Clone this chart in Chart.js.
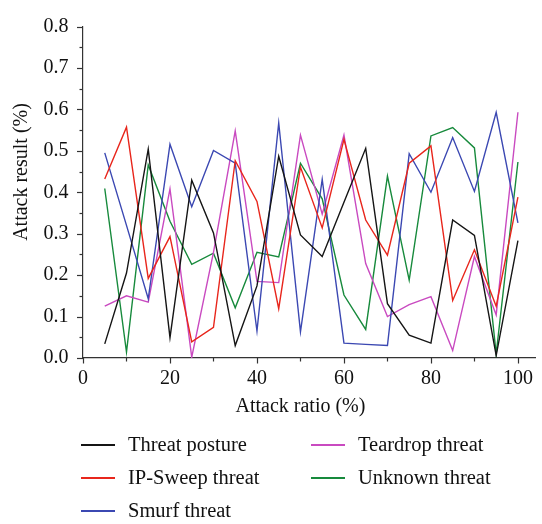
<!DOCTYPE html>
<html>
<head>
<meta charset="utf-8">
<script src="https://cdn.jsdelivr.net/npm/chart.js@4/dist/chart.umd.min.js"></script>
<style>
  html, body { margin: 0; padding: 0; background: #fff; }
  #wrap { position: relative; width: 542px; height: 524px; }
  #chart { position: absolute; left: 0; top: 0; }
  .legend { position: absolute; font-family: "Liberation Serif", "DejaVu Serif", serif; font-size: 20.5px; color: #111; }
  .legend .item { position: absolute; white-space: nowrap; height: 20px; line-height: 20px; }
  .legend .swatch { position: absolute; left: 0; top: 10px; width: 34px; height: 1.5px; }
  .legend .text { position: absolute; left: 47px; top: 0px; }
</style>
</head>
<body>
<div id="wrap">
  <canvas id="chart" width="542" height="524"></canvas>
  <div class="legend" id="legend"></div>
</div>
<script>
// Attack ratio (%) on the x axis
const attackRatio = [5, 10, 15, 20, 25, 30, 35, 40, 45, 50, 55, 60, 65, 70, 75, 80, 85, 90, 95, 100];

// Attack result (%) per threat type
const threatPosture = [0.034, 0.205, 0.504, 0.049, 0.429, 0.302, 0.030, 0.174, 0.487, 0.297, 0.245, 0.376, 0.506, 0.131, 0.055, 0.036, 0.333, 0.296, 0.006, 0.283];
const ipSweepThreat = [0.432, 0.557, 0.192, 0.293, 0.039, 0.074, 0.476, 0.378, 0.119, 0.461, 0.314, 0.528, 0.333, 0.248, 0.470, 0.512, 0.139, 0.261, 0.125, 0.388];
const smurfThreat = [0.495, 0.320, 0.143, 0.516, 0.365, 0.501, 0.470, 0.065, 0.567, 0.063, 0.431, 0.036, 0.033, 0.030, 0.493, 0.400, 0.532, 0.402, 0.593, 0.326];
const teardropThreat = [0.125, 0.150, 0.135, 0.408, 0.002, 0.255, 0.548, 0.185, 0.182, 0.538, 0.347, 0.538, 0.228, 0.100, 0.129, 0.148, 0.018, 0.245, 0.104, 0.593];
const unknownThreat = [0.409, 0.014, 0.466, 0.330, 0.226, 0.253, 0.121, 0.255, 0.244, 0.470, 0.384, 0.152, 0.069, 0.439, 0.188, 0.536, 0.556, 0.507, 0.010, 0.473];

const seriesNames = ['Threat posture', 'IP-Sweep threat', 'Smurf threat', 'Teardrop threat', 'Unknown threat'];
const seriesValues = [threatPosture, ipSweepThreat, smurfThreat, teardropThreat, unknownThreat];
const seriesColors = ['#151515', '#e8261c', '#3b48b2', '#c94ac0', '#178a3c'];

// Tick labels
const xTickLabels = [0, 20, 40, 60, 80, 100];
const yTickLabels = ['0.0', '0.1', '0.2', '0.3', '0.4', '0.5', '0.6', '0.7', '0.8'];

const FONT = '"Liberation Serif", "DejaVu Serif", serif';
const AXIS_COLOR = '#333';

const datasets = seriesNames.map((name, k) => ({
  label: name,
  data: attackRatio.map((x, i) => ({ x: x, y: seriesValues[k][i] })),
  borderColor: seriesColors[k],
  backgroundColor: seriesColors[k],
  borderWidth: 1.4,
  pointRadius: 0,
  tension: 0,
  fill: false
}));

// Outward tick marks (long on labelled values, short in between) and axis titles
const tickMarks = {
  id: 'tickMarks',
  afterDraw(chart) {
    const ctx = chart.ctx;
    const xs = chart.scales.x, ys = chart.scales.y;
    ctx.save();
    ctx.strokeStyle = AXIS_COLOR;
    ctx.lineWidth = 1.2;
    ys.ticks.forEach((t, i) => {
      const y = Math.round(ys.getPixelForValue(t.value)) + 0.5;
      const len = (i % 2 === 0) ? 6 : 3.5;
      ctx.beginPath();
      ctx.moveTo(ys.right, y);
      ctx.lineTo(ys.right - len, y);
      ctx.stroke();
    });
    xs.ticks.forEach((t, i) => {
      const x = Math.round(xs.getPixelForValue(t.value)) + 0.5;
      const len = (i % 2 === 0) ? 5.5 : 3.5;
      ctx.beginPath();
      ctx.moveTo(x, xs.top);
      ctx.lineTo(x, xs.top + len);
      ctx.stroke();
    });
    ctx.fillStyle = '#111';
    ctx.font = '20px ' + FONT;
    ctx.textAlign = 'center';
    ctx.textBaseline = 'middle';
    const xc = (xs.getPixelForValue(xTickLabels[0]) + xs.getPixelForValue(xTickLabels[xTickLabels.length - 1])) / 2;
    ctx.fillText('Attack ratio (%)', xc, 407);
    ctx.translate(22, 172);
    ctx.rotate(-Math.PI / 2);
    ctx.fillText('Attack result (%)', 0, 0);
    ctx.restore();
  }
};

const chart = new Chart(document.getElementById('chart'), {
  type: 'line',
  data: { datasets: datasets },
  options: {
    responsive: false,
    animation: false,
    layout: { padding: { top: 15, right: 2, left: 0, bottom: 0 } },
    plugins: { legend: { display: false }, tooltip: { enabled: false } },
    scales: {
      x: {
        type: 'linear',
        min: 0,
        max: 104,
        afterBuildTicks(scale) {
          const ticks = [];
          for (let i = 0; i <= 10; i++) ticks.push({ value: i * 10 });
          scale.ticks = ticks;
        },
        afterFit(scale) { scale.height = 166; },
        grid: { display: false, drawTicks: false },
        border: { display: true, color: AXIS_COLOR, width: 1.2 },
        ticks: {
          padding: 9,
          color: '#111',
          font: { family: FONT, size: 20 },
          maxRotation: 0,
          autoSkip: false,
          callback(value) { return xTickLabels.includes(value) ? String(value) : ''; }
        }
      },
      y: {
        type: 'linear',
        min: 0,
        max: 0.8,
        afterBuildTicks(scale) {
          const ticks = [];
          for (let i = 0; i <= 16; i++) ticks.push({ value: i * 0.05 });
          scale.ticks = ticks;
        },
        afterFit(scale) { scale.width = 83; },
        grid: { display: false, drawTicks: false },
        border: { display: true, color: AXIS_COLOR, width: 1.2 },
        ticks: {
          padding: 14.5,
          color: '#111',
          font: { family: FONT, size: 20 },
          autoSkip: false,
          callback(value, index) { return index % 2 === 0 ? yTickLabels[index / 2] : ''; }
        }
      }
    }
  },
  plugins: [tickMarks]
});

// Legend in two columns under the plot
const legendEl = document.getElementById('legend');
const legendSlots = [[81, 434], [81, 467], [81, 500], [311, 434], [311, 467]];
chart.data.datasets.forEach((ds, i) => {
  const item = document.createElement('div');
  item.className = 'item';
  item.style.left = legendSlots[i][0] + 'px';
  item.style.top = legendSlots[i][1] + 'px';
  const sw = document.createElement('div');
  sw.className = 'swatch';
  sw.style.backgroundColor = ds.borderColor;
  const tx = document.createElement('span');
  tx.className = 'text';
  tx.textContent = ds.label;
  item.appendChild(sw);
  item.appendChild(tx);
  legendEl.appendChild(item);
});
</script>
</body>
</html>
